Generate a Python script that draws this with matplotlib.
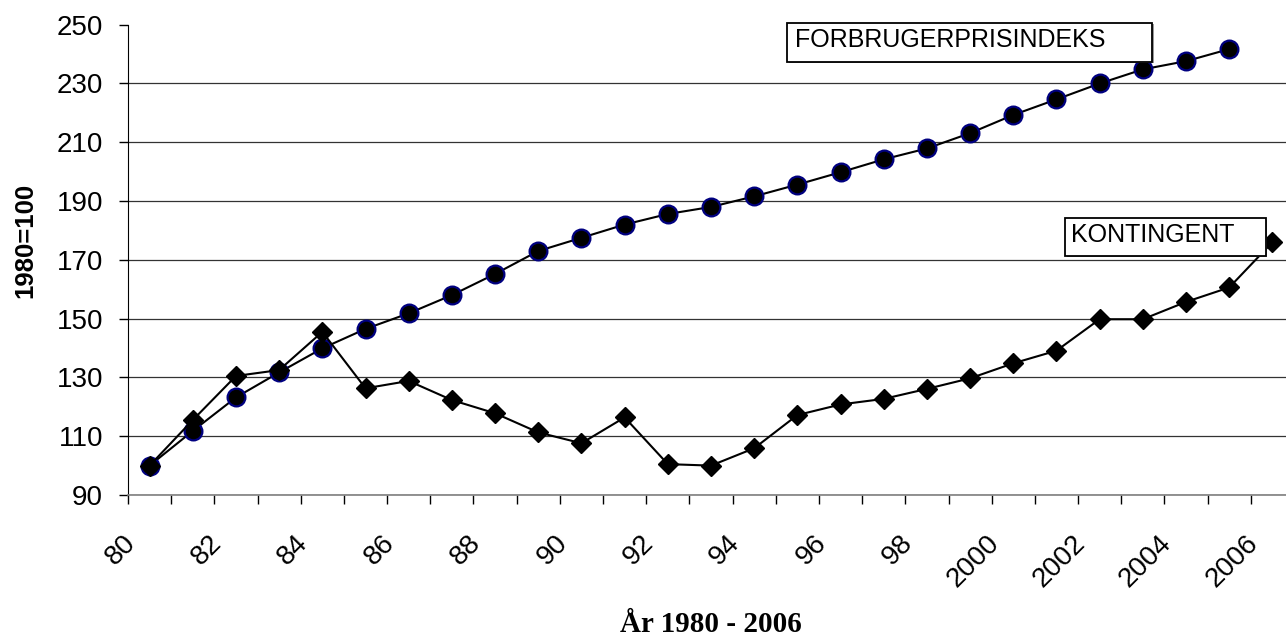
import numpy as np
import matplotlib.pyplot as plt
from matplotlib.patches import Rectangle
from matplotlib.transforms import ScaledTranslation

plt.rcParams['font.family'] = ['Liberation Sans', 'DejaVu Sans']

# data (index 1980 = 100)
years = ['80', '81', '82', '83', '84', '85', '86', '87', '88', '89',
         '90', '91', '92', '93', '94', '95', '96', '97', '98', '99',
         '2000', '2001', '2002', '2003', '2004', '2005', '2006']
forbrugerprisindeks = [100.0, 111.8, 123.2, 131.7, 139.9, 146.5, 151.8, 158.0,
                       165.2, 173.0, 177.5, 182.0, 185.6, 188.0, 191.6, 195.6,
                       199.8, 204.2, 207.9, 213.1, 219.3, 224.6, 230.0, 234.8,
                       237.6, 241.7]
kontingent = [100.0, 115.5, 130.5, 132.5, 145.5, 126.3, 128.8, 122.3, 117.8,
              111.3, 107.6, 116.4, 100.5, 100.0, 105.9, 117.2, 120.8, 122.7,
              126.1, 129.7, 134.8, 139.1, 149.8, 149.8, 155.7, 160.6, 176.0]
tick_labels = years[::2]
y_ticks = [90, 110, 130, 150, 170, 190, 210, 230, 250]

W, H = 1286, 640
fig = plt.figure(figsize=(W / 100, H / 100), dpi=100)
ax = fig.add_axes([128 / W, (H - 495) / H, (1294 - 128) / W, (495 - 24.7) / H])

x_all = np.arange(len(years))
ax.plot(x_all[:len(forbrugerprisindeks)], forbrugerprisindeks, color='black', lw=1.5,
        marker='o', ms=12.8, mfc='black', mec='#000080', mew=1.6, zorder=3)
ax.plot(x_all, kontingent, color='black', lw=1.5,
        marker='D', ms=10.5, mfc='black', mec='black', zorder=4)

ax.set_xlim(-0.5, len(years) - 0.5)
ax.set_ylim(90, 250)
ax.set_yticks(y_ticks)
ax.set_yticklabels([str(v) for v in y_ticks], fontsize=20)

# labels at category centres, tick marks at category boundaries
ax.set_xticks(x_all[::2])
ax.set_xticklabels(tick_labels, fontsize=20, rotation=45, ha='right')
ax.set_xticks(np.arange(len(years) + 1) - 0.5, minor=True)
ax.tick_params(axis='x', which='major', length=0, pad=25)
ax.tick_params(axis='x', which='minor', length=6.5, width=1, direction='out', color='black')
ax.tick_params(axis='y', length=6.5, width=1, direction='out', pad=11.5)
shift = ScaledTranslation(-9 / 100, 0, fig.dpi_scale_trans)
for lab in ax.get_xticklabels():
    lab.set_transform(lab.get_transform() + shift)

ax.yaxis.grid(True, color='#333333', lw=0.9)
ax.get_ygridlines()[-1].set_visible(False)
ax.set_axisbelow(True)
for s in ['top', 'right']:
    ax.spines[s].set_visible(False)
ax.spines['left'].set_color('black')
ax.spines['bottom'].set_color('#7f7f7f')
ax.spines['bottom'].set_linewidth(1.2)

fig.text(25 / W, 1 - 240 / H, '1980=100', rotation=90, fontsize=18.5, fontweight='bold',
         ha='center', va='center')
fig.text(711 / W, 1 - 624 / H, 'År 1980 - 2006', fontsize=21, fontweight='bold',
         family=['Liberation Serif', 'DejaVu Serif'], ha='center', va='center')


def label_box(x0, y0, x1, y1, tx, ty, text):
    fig.patches.append(Rectangle((x0 / W + 1.5 / W, 1 - y1 / H - 1.5 / H), (x1 - x0) / W, (y1 - y0) / H,
                                 transform=fig.transFigure, facecolor='#999999',
                                 edgecolor='none', zorder=5))
    fig.patches.append(Rectangle((x0 / W, 1 - y1 / H), (x1 - x0) / W, (y1 - y0) / H,
                                 transform=fig.transFigure, facecolor='white',
                                 edgecolor='black', lw=1.3, zorder=6))
    fig.text(tx / W, 1 - ty / H, text, fontsize=18, ha='left', va='center', zorder=7)


label_box(787, 23, 1152, 61.5, 795, 40, 'FORBRUGERPRISINDEKS')
label_box(1065, 218.5, 1265.5, 255.5, 1071, 235, 'KONTINGENT')

fig.savefig('out.png', dpi=100)
